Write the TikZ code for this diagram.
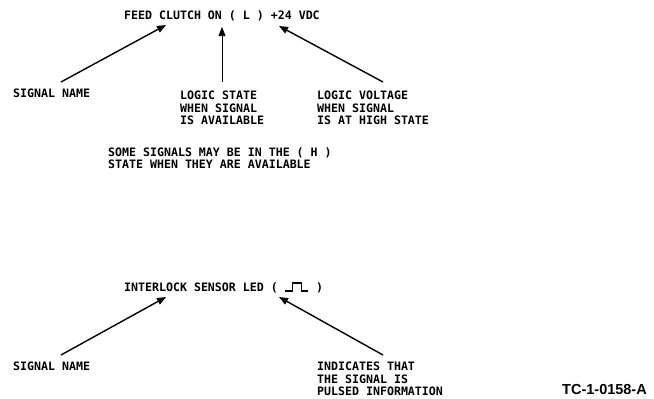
\documentclass[tikz,border=0pt]{standalone}
\usepackage{fontspec}
\setmonofont{DejaVu Sans Mono}
\setsansfont{Liberation Sans}
\usetikzlibrary{arrows.meta}
\newcommand{\lblfont}{\ttfamily\bfseries\fontsize{11.6}{12.5}\selectfont}
\newcommand{\pulsemark}{\tikz[baseline=-1pt, x=1pt, y=1pt]\draw[line width=1.3pt] (0,0) -- (7,0) -- (7,8) -- (16,8) -- (16,0) -- (23,0);}

\begin{document}
\begin{tikzpicture}[x=1pt, y=-1pt,
    lbl/.style={anchor=north west, inner sep=0pt, align=left, font=\lblfont},
    ptr/.style={line width=1.4pt, -{Triangle[length=9pt, width=7pt]}},
    thinptr/.style={line width=0.7pt, -{Triangle[length=9pt, width=7pt]}}
  ]
  \useasboundingbox (0,0) rectangle (654,399);

  \node[lbl] (feed) at (124,10) {FEED CLUTCH ON ( L ) +24 VDC};
  \node[lbl] (sigA) at (13,89) {SIGNAL NAME};
  \node[lbl] (state) at (180,91) {LOGIC STATE\\WHEN SIGNAL\\IS AVAILABLE};
  \node[lbl] (volt) at (317,91) {LOGIC VOLTAGE\\WHEN SIGNAL\\IS AT HIGH STATE};
  \node[lbl] (note) at (108,147) {SOME SIGNALS MAY BE IN THE ( H )\\STATE WHEN THEY ARE AVAILABLE};

  \node[lbl] (ilock) at (124,282) {INTERLOCK SENSOR LED ( \pulsemark\ )};
  \node[lbl] (sigB) at (13,362) {SIGNAL NAME};
  \node[lbl] (pulsed) at (317,362) {INDICATES THAT\\THE SIGNAL IS\\PULSED INFORMATION};

  \node[anchor=north west, inner sep=0pt, font=\sffamily\bfseries\fontsize{14.5}{16}\selectfont] (tc) at (562,384) {TC-1-0158-A};

  \coordinate (sigAtail) at (61,82);
  \coordinate (sigAtip) at (166,25);
  \coordinate (statetail) at (222,82);
  \coordinate (statetip) at (222,27);
  \coordinate (volttail) at (383,82);
  \coordinate (volttip) at (279,26);
  \coordinate (sigBtail) at (61,355);
  \coordinate (sigBtip) at (166,297);
  \coordinate (pulsedtail) at (383,355);
  \coordinate (pulsedtip) at (279,297);

  \draw[ptr] (sigAtail) -- (sigAtip);
  \draw[thinptr] (statetail) -- (statetip);
  \draw[ptr] (volttail) -- (volttip);
  \draw[ptr] (sigBtail) -- (sigBtip);
  \draw[ptr] (pulsedtail) -- (pulsedtip);
\end{tikzpicture}
\end{document}
